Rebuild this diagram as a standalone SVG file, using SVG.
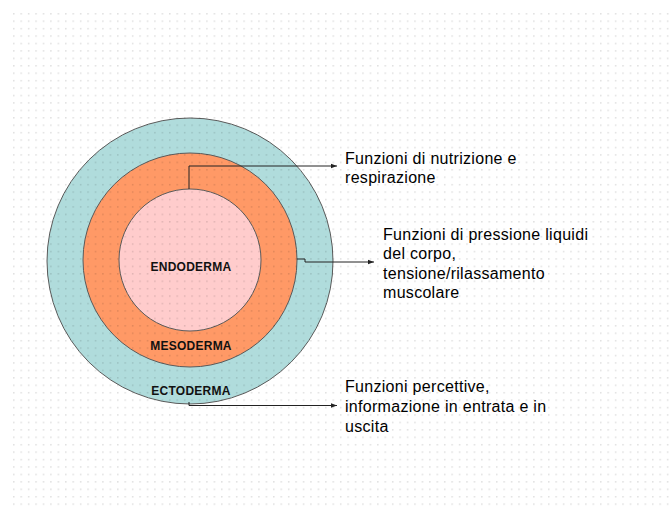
<svg xmlns="http://www.w3.org/2000/svg" width="669" height="510" viewBox="0 0 669 510">
<style>
.ring{stroke:#5a5a5a;stroke-width:1}
.lbl{font-family:"Liberation Sans",Arial,sans-serif;font-weight:bold;font-size:12px;letter-spacing:0.25px;fill:#111;text-anchor:middle}
.txt{font-family:"Liberation Sans",Arial,sans-serif;font-size:16px;letter-spacing:0.3px;fill:#000}
.conn{fill:none;stroke:#222;stroke-width:1}
</style>
<defs>
<pattern id="dots" x="13" y="13" width="7.43" height="7.43" patternUnits="userSpaceOnUse">
<rect x="0" y="0" width="1.5" height="1.5" fill="#000" fill-opacity="0.12"/>
</pattern>
<marker id="arr" viewBox="0 0 6 6" refX="6" refY="3" markerWidth="6" markerHeight="6" markerUnits="userSpaceOnUse" orient="auto">
<path d="M0,0.8 L6,3 L0,5.2 Z" fill="#222"/>
</marker>
</defs>
<rect width="669" height="510" fill="#fff"/>
<g id="ectoderma">
<circle class="ring" cx="190" cy="261" r="143" fill="#B0DCDC"/>
</g>
<g id="mesoderma">
<circle class="ring" cx="190" cy="260" r="107" fill="#FF9966"/>
</g>
<g id="endoderma">
<circle class="ring" cx="190" cy="260" r="71" fill="#FFCCCC"/>
</g>
<rect x="12" y="12" width="657" height="498" fill="url(#dots)"/>
<g id="labels">
<text class="lbl" x="191" y="270.5">ENDODERMA</text>
<text class="lbl" x="191" y="350">MESODERMA</text>
<text class="lbl" x="191" y="394.5">ECTODERMA</text>
</g>
<g id="connectors">
<polyline class="conn" points="189,189 189,166 337,166" marker-end="url(#arr)"/>
<polyline class="conn" points="297,259 305,259 305,262 374,262" marker-end="url(#arr)"/>
<polyline class="conn" points="189,402 189,405.5 337,405.5" marker-end="url(#arr)"/>
</g>
<g id="text-nutrizione">
<text class="txt" x="345" y="163.5">Funzioni di nutrizione e</text>
<text class="txt" x="345" y="182.5">respirazione</text>
</g>
<g id="text-pressione">
<text class="txt" x="383" y="239.5">Funzioni di pressione liquidi</text>
<text class="txt" x="383" y="259">del corpo,</text>
<text class="txt" x="383" y="278.5">tensione/rilassamento</text>
<text class="txt" x="383" y="298">muscolare</text>
</g>
<g id="text-percettive">
<text class="txt" x="345" y="391.5">Funzioni percettive,</text>
<text class="txt" x="345" y="411.5">informazione in entrata e in</text>
<text class="txt" x="345" y="431.5">uscita</text>
</g>
</svg>
